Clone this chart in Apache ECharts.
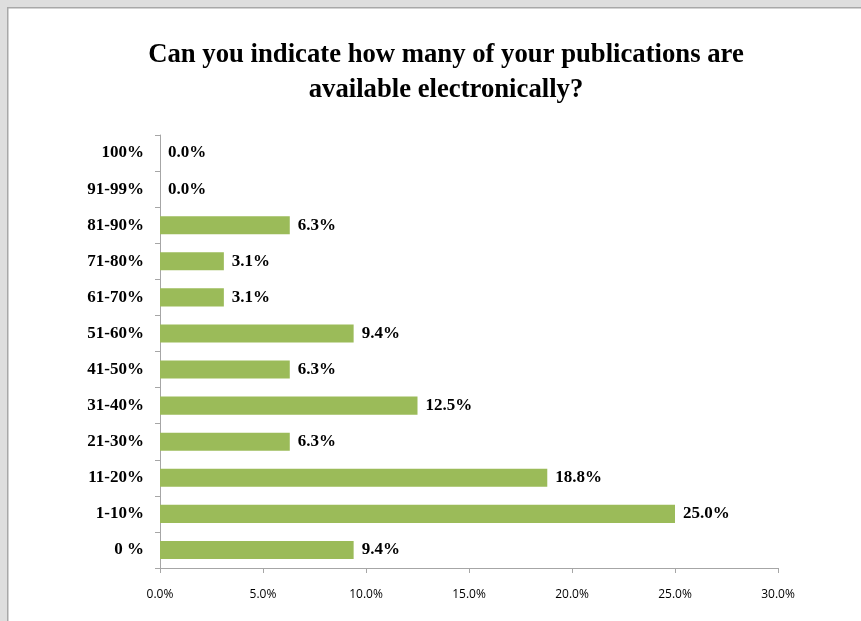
<!DOCTYPE html>
<html><head><meta charset="utf-8">
<script src="https://cdn.jsdelivr.net/npm/echarts@6/dist/echarts.min.js"></script>
<style>html,body{margin:0;padding:0;background:#fff}#c{width:861px;height:621px}</style>
</head><body><div id="c"></div>
<script>
const categories = ["0 %","1-10%","11-20%","21-30%","31-40%","41-50%","51-60%","61-70%","71-80%","81-90%","91-99%","100%"];
const values = [9.4,25.0,18.8,6.3,12.5,6.3,9.4,3.1,3.1,6.3,0.0,0.0];
const titleLines = ["Can you indicate how many of your publications are","available electronically?"];

const chart = echarts.init(document.getElementById('c'), null, {renderer:'canvas'});
chart.setOption({
  backgroundColor:'#ffffff',
  animation:false,
  graphic:[
    {type:'rect',shape:{x:0,y:0,width:861,height:8},style:{fill:'#dedede'},silent:true},
    {type:'rect',shape:{x:0,y:0,width:8,height:621},style:{fill:'#dedede'},silent:true},
    {type:'rect',shape:{x:7,y:7,width:854,height:1.5},style:{fill:'#a8a8a8'},silent:true},
    {type:'rect',shape:{x:7,y:7,width:1.5,height:614},style:{fill:'#a8a8a8'},silent:true}
  ],
  title:{
    text:titleLines.join('\n'),
    left:441, top:33, textAlign:'center',
    textStyle:{fontFamily:'Liberation Serif',fontWeight:'bold',fontSize:26.7,lineHeight:35,color:'#000'}
  },
  grid:{left:160,right:83,top:135,bottom:53,containLabel:false},
  xAxis:{
    type:'value',min:0,max:30,interval:5,
    axisLine:{show:true,lineStyle:{color:'#a6a6a6',width:1}},
    axisTick:{show:true,length:5,lineStyle:{color:'#a6a6a6'}},
    splitLine:{show:false},
    axisLabel:{formatter:v=>v.toFixed(1)+'%',margin:21,fontFamily:'Open Sans',fontSize:12,color:'#000'}
  },
  yAxis:{
    type:'category',data:categories,
    axisLine:{show:true,lineStyle:{color:'#a6a6a6',width:1}},
    axisTick:{show:true,length:5,lineStyle:{color:'#a6a6a6'}},
    axisLabel:{margin:16,padding:[4,0,0,0],fontFamily:'Liberation Serif',fontWeight:'bold',fontSize:17,color:'#000'}
  },
  series:[{
    type:'bar',data:values,barCategoryGap:'50%',
    itemStyle:{color:'#9bbb59'},
    label:{show:true,position:'right',distance:8,padding:[4,0,0,0],formatter:p=>p.value.toFixed(1)+'%',
      fontFamily:'Liberation Serif',fontWeight:'bold',fontSize:17,color:'#000'}
  }]
});
</script></body></html>
